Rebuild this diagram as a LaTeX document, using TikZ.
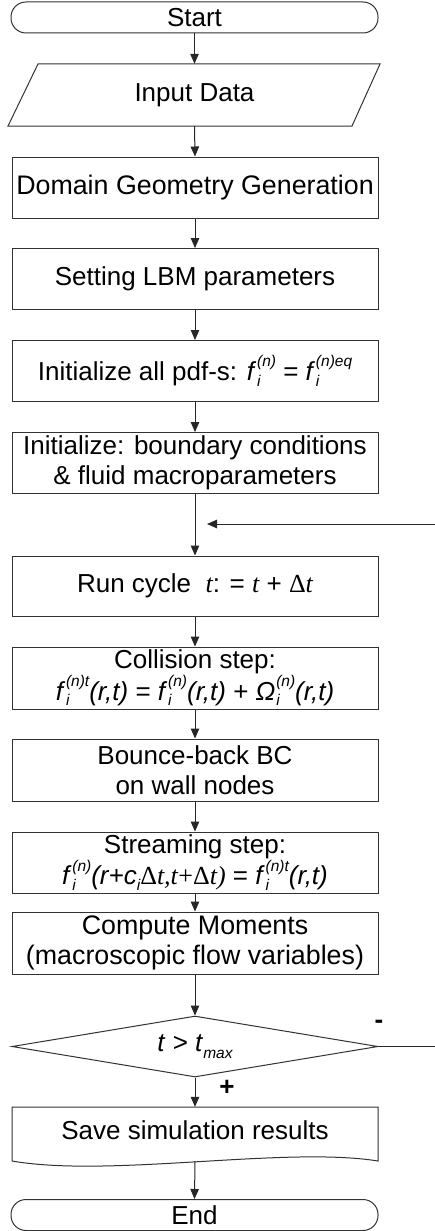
\documentclass[tikz,border=0pt]{standalone}
\usepackage{fontspec}
\setmainfont{Liberation Sans}
\newfontfamily\srf{Liberation Serif}
\usetikzlibrary{arrows.meta,shapes.geometric}
\newcommand{\smallf}{\fontsize{15.5}{15.5}\selectfont}
\newcommand{\fsi}[2]{\textit{#1}\kern0.03em\rlap{\raisebox{-0.22em}{\smallf\itshape i}}\raisebox{0.52em}{\smallf\itshape #2}}
\newcommand{\tsrf}{{\srf\itshape t}}
\begin{document}
\begin{tikzpicture}[x=1pt,y=-1pt,
  every node/.style={font=\fontsize{26}{30}\selectfont},
  big/.style={font=\fontsize{26.8}{30}\selectfont},
  shp/.style={draw=black!80, line width=1pt},
  box/.style={shp, rectangle, minimum width=366pt, minimum height=61pt, inner sep=0pt, align=center},
  term/.style={shp, rectangle, rounded corners=15pt, minimum width=367pt, minimum height=31pt, inner sep=0pt},
  arr/.style={draw=black!85, line width=1pt, -{Triangle[length=10pt,width=8.5pt]}},
  lin/.style={draw=black!85, line width=1pt},
  sign/.style={font=\fontsize{26}{30}\selectfont\bfseries}]
\useasboundingbox (0,0) rectangle (435,1231);
% nodes
\node[term] (start) at (194.5,17.5) {Start};
\node[minimum width=300pt, minimum height=62pt, inner sep=0pt] (input) at (194.5,95) {Input Data};
\draw[shp] (38,64) -- (380,64) -- (352,126) -- (8,126) -- cycle;
\node[box, big] (dom) at (195,187.5) {Domain Geometry Generation};
\node[box] (set) at (195,279) {Setting LBM parameters};
\node[box] (init1) at (195,371) {Initialize all pdf-s: \fsi{f}{(n)} = \fsi{f}{(n)eq}};
\node[box] (init2) at (195,463) {Initialize: boundary conditions\\\& fluid macroparameters};
\node[box, minimum height=60pt] (run) at (195,586) {Run cycle\ \ \tsrf{:} = \tsrf\ + {\srf Δ}\tsrf};
\node[box, minimum height=62pt] (coll) at (195,678) {Collision step:\\\fsi{f}{(n)t}\textit{(r,t)} = \fsi{f}{(n)}\textit{(r,t)} + \fsi{Ω}{(n)}\textit{(r,t)}};
\node[box, minimum height=62pt] (bounce) at (195,770) {Bounce-back BC\\on wall nodes};
\node[box, minimum height=61pt] (stream) at (195,862.5) {Streaming step:\\\fsi{f}{(n)}\textit{(r+c}\raisebox{-0.22em}{\smallf\itshape i}{\srf Δ\textit{t,t}+Δ\textit{t)}} = \fsi{f}{(n)t}\textit{(r,t)}};
\node[box, big, minimum height=62pt] (mom) at (195,943) {Compute Moments\\(macroscopic flow variables)};
\node[shp, diamond, aspect=6, minimum width=366pt, minimum height=61pt, inner sep=0pt] (dec) at (195,1046.5) {\raisebox{0.2em}{\textit{t} > \textit{t}\raisebox{-0.25em}{\smallf\itshape max}}};
\node[minimum width=366pt, minimum height=54pt, inner sep=0pt] (save) at (195,1134) {\raisebox{0.3em}{Save simulation results}};
\draw[shp] (12,1107) -- (378,1107) -- (378,1161) .. controls (285,1146) and (110,1178) .. (12,1161) -- cycle;
\node[term] (end) at (194.5,1215) {End};
\node[sign] (minus) at (379,1024) {-};
\node[sign] (plus) at (227,1088) {+};
\coordinate (backR) at (435,1046.5);
\coordinate (backT) at (435,524);
\coordinate (backTip) at (207,524);
% connectors
\draw[arr] (start.south) -- (input.north);
\draw[arr] (input.south) -- (dom.north);
\draw[arr] (dom) -- (set);
\draw[arr] (set) -- (init1);
\draw[arr] (init1) -- (init2);
\draw[arr] (init2) -- (run);
\draw[arr] (run) -- (coll);
\draw[arr] (coll) -- (bounce);
\draw[arr] (bounce) -- (stream);
\draw[arr] (stream) -- (mom);
\draw[arr] (mom) -- (dec.north);
\draw[arr] (dec.south) -- (save.north);
\draw[arr] (195,1161) -- (end.north);
\draw[lin] (dec.east) -- (backR);
\draw[arr] (backT) -- (backTip);
\end{tikzpicture}
\end{document}
